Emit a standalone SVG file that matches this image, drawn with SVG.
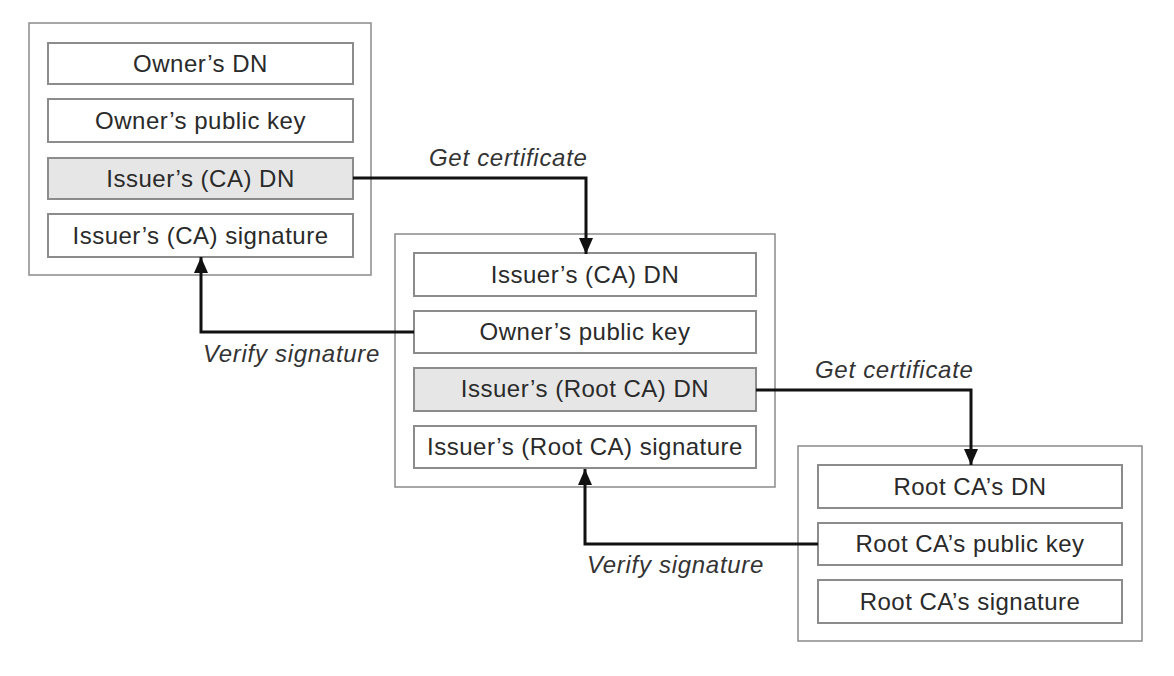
<svg xmlns="http://www.w3.org/2000/svg" width="1174" height="676" viewBox="0 0 1174 676">
<defs>
<style>
.outer{fill:#fff;stroke:#8a8a8a;stroke-width:1.5}
.row{fill:#fff;stroke:#8c8c8c;stroke-width:2}
.hl{fill:#e6e6e6}
.t{font-family:"Liberation Sans",Arial,sans-serif;font-size:24px;letter-spacing:0.5px;fill:#2a2a2a;text-anchor:middle}
.lbl{font-family:"Liberation Sans",Arial,sans-serif;font-size:24px;letter-spacing:0.7px;font-style:italic;fill:#333}
.conn{fill:none;stroke:#111;stroke-width:3}
</style>
<marker id="arr" viewBox="0 0 16 14" refX="16" refY="7" markerWidth="16" markerHeight="14" markerUnits="userSpaceOnUse" orient="auto">
<path d="M0,0 L16,7 L0,14 z" fill="#111"/>
</marker>
</defs>
<rect width="1174" height="676" fill="#fff"/>

<g id="cert1">
<rect class="outer" x="29" y="23" width="342" height="252"/>
<g id="cert1-owner-dn"><rect class="row" x="48" y="43" width="305" height="41"/><text class="t" x="200.5" y="72">Owner’s DN</text></g>
<g id="cert1-owner-key"><rect class="row" x="48" y="99" width="305" height="43"/><text class="t" x="200.5" y="129">Owner’s public key</text></g>
<g id="cert1-issuer-dn"><rect class="row hl" x="48" y="158" width="305" height="41"/><text class="t" x="200.5" y="187">Issuer’s (CA) DN</text></g>
<g id="cert1-issuer-sig"><rect class="row" x="48" y="214" width="305" height="43"/><text class="t" x="200.5" y="244">Issuer’s (CA) signature</text></g>
</g>

<g id="cert2">
<rect class="outer" x="395" y="234" width="380" height="253"/>
<g id="cert2-issuer-dn"><rect class="row" x="414" y="253" width="342" height="43"/><text class="t" x="585" y="283">Issuer’s (CA) DN</text></g>
<g id="cert2-owner-key"><rect class="row" x="414" y="311" width="342" height="42"/><text class="t" x="585" y="340">Owner’s public key</text></g>
<g id="cert2-root-dn"><rect class="row hl" x="414" y="368" width="342" height="43"/><text class="t" x="585" y="397">Issuer’s (Root CA) DN</text></g>
<g id="cert2-root-sig"><rect class="row" x="414" y="426" width="342" height="42"/><text class="t" x="585" y="455">Issuer’s (Root CA) signature</text></g>
</g>

<g id="cert3">
<rect class="outer" x="798" y="446" width="344" height="195"/>
<g id="cert3-dn"><rect class="row" x="818" y="465" width="304" height="43"/><text class="t" x="970" y="495">Root CA’s DN</text></g>
<g id="cert3-key"><rect class="row" x="818" y="523" width="304" height="42"/><text class="t" x="970" y="552">Root CA’s public key</text></g>
<g id="cert3-sig"><rect class="row" x="818" y="580" width="304" height="43"/><text class="t" x="970" y="610">Root CA’s signature</text></g>
</g>

<g id="connectors">
<path class="conn" d="M353,178 H586 V254" marker-end="url(#arr)"/>
<path class="conn" d="M414,332 H201 V257" marker-end="url(#arr)"/>
<path class="conn" d="M756,390 H971 V465" marker-end="url(#arr)"/>
<path class="conn" d="M818,544 H585 V469" marker-end="url(#arr)"/>
<text class="lbl" x="429" y="166">Get certificate</text>
<text class="lbl" x="203" y="362">Verify signature</text>
<text class="lbl" x="815" y="378">Get certificate</text>
<text class="lbl" x="587" y="573">Verify signature</text>
</g>
</svg>
